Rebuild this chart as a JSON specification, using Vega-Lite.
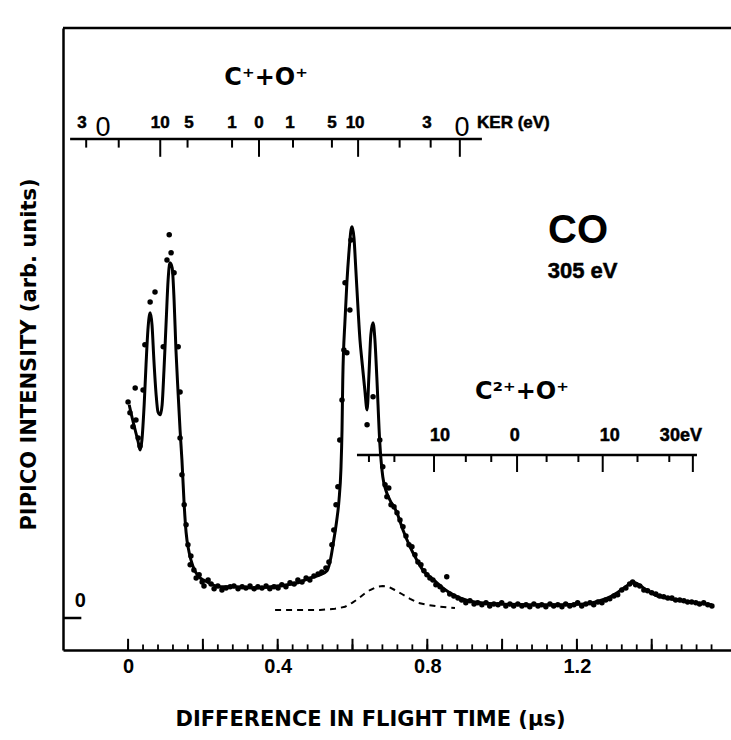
{
 "$schema": "https://vega.github.io/schema/vega-lite/v6.json",
 "width": 668,
 "height": 622,
 "autosize": {"type": "none"},
 "padding": {"left": 63, "top": 28, "right": 0, "bottom": 90},
 "background": "white",
 "config": {"view": {"stroke": null}, "font": "Liberation Sans"},
 "datasets": {
  "fit": [
   {"t":0.003,"v":53.3},{"t":0.011,"v":50},{"t":0.019,"v":47},{"t":0.027,"v":44},{"t":0.032,"v":42},{"t":0.037,"v":44.5},{"t":0.043,"v":53.3},{"t":0.048,"v":63.3},{"t":0.053,"v":72},{"t":0.059,"v":76.3},{"t":0.064,"v":73.3},{"t":0.069,"v":64.5},{"t":0.075,"v":55.8},{"t":0.080,"v":51.5},{"t":0.086,"v":50.8},{"t":0.091,"v":53.3},{"t":0.096,"v":62},{"t":0.102,"v":74.5},{"t":0.107,"v":84.5},{"t":0.112,"v":88.8},{"t":0.118,"v":87.5},{"t":0.123,"v":79.5},{"t":0.128,"v":67},{"t":0.134,"v":55.8},{"t":0.139,"v":47},{"t":0.144,"v":39.5},{"t":0.150,"v":28.3},{"t":0.155,"v":21.5},{"t":0.163,"v":16.5},{"t":0.174,"v":12.8},{"t":0.187,"v":10.5},{"t":0.206,"v":9.3},{"t":0.246,"v":7.8},{"t":0.291,"v":7.8},{"t":0.339,"v":7.5},{"t":0.379,"v":7.8},{"t":0.425,"v":8.3},{"t":0.460,"v":9},{"t":0.486,"v":10},{"t":0.513,"v":10.8},{"t":0.532,"v":11.8},{"t":0.542,"v":15},{"t":0.550,"v":19.5},{"t":0.558,"v":24.5},{"t":0.564,"v":29.5},{"t":0.569,"v":37},{"t":0.572,"v":47},{"t":0.574,"v":59.5},{"t":0.580,"v":74.5},{"t":0.585,"v":83.8},{"t":0.591,"v":92},{"t":0.596,"v":97},{"t":0.599,"v":97.8},{"t":0.604,"v":95},{"t":0.609,"v":87},{"t":0.615,"v":77},{"t":0.620,"v":69.5},{"t":0.625,"v":64.5},{"t":0.633,"v":57},{"t":0.639,"v":52},{"t":0.644,"v":60.8},{"t":0.649,"v":70.8},{"t":0.655,"v":73.8},{"t":0.660,"v":69.5},{"t":0.665,"v":60.3},{"t":0.673,"v":43.8},{"t":0.681,"v":35.3},{"t":0.689,"v":32},{"t":0.700,"v":29.5},{"t":0.719,"v":26.3},{"t":0.735,"v":22},{"t":0.754,"v":17.8},{"t":0.772,"v":14.5},{"t":0.788,"v":12},{"t":0.807,"v":10.3},{"t":0.826,"v":8.8},{"t":0.844,"v":7.3},{"t":0.860,"v":6.3},{"t":0.887,"v":5},{"t":0.927,"v":4},{"t":0.994,"v":3.5},{"t":1.074,"v":3.3},{"t":1.154,"v":3.3},{"t":1.221,"v":3.5},{"t":1.261,"v":4.3},{"t":1.293,"v":5.5},{"t":1.315,"v":6.8},{"t":1.333,"v":8},{"t":1.349,"v":9},{"t":1.363,"v":8.5},{"t":1.381,"v":7.3},{"t":1.408,"v":5.8},{"t":1.448,"v":4.8},{"t":1.502,"v":4},{"t":1.561,"v":3.3}
  ],
  "bg": [
   {"t":0.393,"v":2},{"t":0.433,"v":2},{"t":0.473,"v":2},{"t":0.513,"v":2},{"t":0.553,"v":2.3},{"t":0.580,"v":2.8},{"t":0.599,"v":3.8},{"t":0.615,"v":4.8},{"t":0.631,"v":6},{"t":0.647,"v":7},{"t":0.665,"v":7.8},{"t":0.681,"v":8},{"t":0.697,"v":7.8},{"t":0.713,"v":7},{"t":0.732,"v":6},{"t":0.754,"v":4.8},{"t":0.775,"v":3.8},{"t":0.799,"v":3.3},{"t":0.834,"v":2.8},{"t":0.874,"v":2.5}
  ],
  "pts": [
   {"t":0,"v":54},{"t":0.005,"v":51.3},{"t":0.013,"v":47.8},{"t":0.021,"v":49.5},{"t":0.027,"v":45},{"t":0.032,"v":43},{"t":0.019,"v":57.5},{"t":0.040,"v":57},{"t":0.045,"v":68.3},{"t":0.059,"v":79},{"t":0.072,"v":81.5},{"t":0.094,"v":67.8},{"t":0.104,"v":89.5},{"t":0.110,"v":95.8},{"t":0.115,"v":91.3},{"t":0.123,"v":86.3},{"t":0.134,"v":67.8},{"t":0.139,"v":56.5},{"t":0.139,"v":45},{"t":0.144,"v":35.8},{"t":0.150,"v":28.3},{"t":0.155,"v":23.3},{"t":0.160,"v":18.3},{"t":0.168,"v":15.5},{"t":0.166,"v":13.3},{"t":0.176,"v":12},{"t":0.182,"v":10},{"t":0.190,"v":10.8},{"t":0.198,"v":9},{"t":0.203,"v":8},{"t":0.214,"v":9.5},{"t":0.222,"v":8.5},{"t":0.230,"v":7.3},{"t":0.240,"v":8},{"t":0.251,"v":7},{"t":0.262,"v":7.5},{"t":0.273,"v":7.8},{"t":0.283,"v":8},{"t":0.294,"v":7.3},{"t":0.305,"v":7.8},{"t":0.315,"v":7.5},{"t":0.326,"v":8},{"t":0.337,"v":7.3},{"t":0.347,"v":7.8},{"t":0.358,"v":7.5},{"t":0.369,"v":8},{"t":0.379,"v":7.3},{"t":0.390,"v":7.8},{"t":0.401,"v":7.5},{"t":0.411,"v":8.3},{"t":0.422,"v":7.8},{"t":0.433,"v":8.8},{"t":0.444,"v":8.5},{"t":0.454,"v":9.5},{"t":0.465,"v":9},{"t":0.476,"v":10},{"t":0.486,"v":9.5},{"t":0.497,"v":10.5},{"t":0.508,"v":11},{"t":0.518,"v":11.5},{"t":0.529,"v":12.5},{"t":0.537,"v":14},{"t":0.545,"v":18.3},{"t":0.550,"v":22},{"t":0.556,"v":28.3},{"t":0.561,"v":32.8},{"t":0.566,"v":44.5},{"t":0.572,"v":54.5},{"t":0.577,"v":67},{"t":0.580,"v":83.8},{"t":0.585,"v":66.3},{"t":0.593,"v":77},{"t":0.596,"v":94.5},{"t":0.639,"v":48.3},{"t":0.655,"v":55.3},{"t":0.673,"v":44.5},{"t":0.681,"v":37.8},{"t":0.687,"v":33.3},{"t":0.692,"v":30.3},{"t":0.697,"v":32.5},{"t":0.703,"v":28.3},{"t":0.711,"v":27.8},{"t":0.719,"v":26.3},{"t":0.727,"v":24.5},{"t":0.735,"v":22.8},{"t":0.743,"v":20.5},{"t":0.751,"v":18.3},{"t":0.759,"v":17.8},{"t":0.767,"v":15.8},{"t":0.775,"v":14},{"t":0.783,"v":13.3},{"t":0.791,"v":11.8},{"t":0.799,"v":10.8},{"t":0.807,"v":10},{"t":0.815,"v":9.5},{"t":0.823,"v":8.3},{"t":0.834,"v":7.8},{"t":0.842,"v":7},{"t":0.852,"v":10.3},{"t":0.860,"v":6},{"t":0.871,"v":5.5},{"t":0.882,"v":5},{"t":0.892,"v":4.5},{"t":0.903,"v":3.8},{"t":0.914,"v":4.3},{"t":0.925,"v":3.5},{"t":0.935,"v":3.8},{"t":0.946,"v":3.3},{"t":0.957,"v":3.8},{"t":0.967,"v":3},{"t":0.978,"v":3.5},{"t":0.989,"v":3.3},{"t":0.999,"v":3.8},{"t":1.010,"v":3},{"t":1.021,"v":3.5},{"t":1.031,"v":3},{"t":1.042,"v":3.5},{"t":1.053,"v":3},{"t":1.064,"v":3.3},{"t":1.074,"v":2.8},{"t":1.085,"v":3.5},{"t":1.096,"v":3},{"t":1.106,"v":3.3},{"t":1.117,"v":2.8},{"t":1.128,"v":3.5},{"t":1.138,"v":3},{"t":1.149,"v":3.3},{"t":1.160,"v":2.8},{"t":1.170,"v":3.5},{"t":1.181,"v":3},{"t":1.192,"v":3.3},{"t":1.202,"v":3.8},{"t":1.213,"v":3},{"t":1.224,"v":3.5},{"t":1.235,"v":3.8},{"t":1.245,"v":3.3},{"t":1.256,"v":4},{"t":1.267,"v":3.8},{"t":1.277,"v":4.5},{"t":1.288,"v":4.8},{"t":1.299,"v":5.5},{"t":1.309,"v":5.8},{"t":1.320,"v":7},{"t":1.331,"v":7.5},{"t":1.341,"v":8.5},{"t":1.349,"v":9},{"t":1.357,"v":8.3},{"t":1.368,"v":8},{"t":1.379,"v":7},{"t":1.389,"v":6.8},{"t":1.400,"v":6.3},{"t":1.411,"v":6},{"t":1.421,"v":5.5},{"t":1.432,"v":5.3},{"t":1.443,"v":5},{"t":1.454,"v":5},{"t":1.464,"v":4.5},{"t":1.475,"v":4.5},{"t":1.486,"v":4.3},{"t":1.496,"v":4},{"t":1.507,"v":4},{"t":1.518,"v":3.8},{"t":1.528,"v":3.5},{"t":1.539,"v":3.8},{"t":1.550,"v":3.3},{"t":1.561,"v":3}
  ],
  "xminor": [{"t":0},{"t":0.04},{"t":0.08},{"t":0.12},{"t":0.16},{"t":0.2},{"t":0.24},{"t":0.28},{"t":0.32},{"t":0.36},{"t":0.4},{"t":0.44},{"t":0.48},{"t":0.52},{"t":0.56},{"t":0.6},{"t":0.64},{"t":0.68},{"t":0.72},{"t":0.76},{"t":0.8},{"t":0.84},{"t":0.88},{"t":0.92},{"t":0.96},{"t":1.0},{"t":1.04},{"t":1.08},{"t":1.12},{"t":1.16},{"t":1.2},{"t":1.24},{"t":1.28},{"t":1.32},{"t":1.36},{"t":1.4},{"t":1.44},{"t":1.48},{"t":1.52},{"t":1.56}],
  "xmajor": [{"t":0},{"t":0.2},{"t":0.4},{"t":0.6},{"t":0.8},{"t":1.0},{"t":1.2},{"t":1.4}],
  "topShort": [{"t":-0.112},{"t":-0.025},{"t":0.159},{"t":0.278},{"t":0.441},{"t":0.545},{"t":0.726},{"t":0.809}],
  "topLong": [{"t":0.086},{"t":0.350},{"t":0.615},{"t":0.887}],
  "c2Short": [{"t":0.644},{"t":0.712},{"t":0.903},{"t":0.971},{"t":1.119},{"t":1.204},{"t":1.362},{"t":1.447}],
  "c2Long": [{"t":0.818},{"t":1.040},{"t":1.269},{"t":1.510}],
  "topLabels": [{"t":-0.123,"v":123.75,"text":"3"},{"t":0.086,"v":123.75,"text":"10"},{"t":0.163,"v":123.75,"text":"5"},{"t":0.278,"v":123.75,"text":"1"},{"t":0.350,"v":123.75,"text":"0"},{"t":0.433,"v":123.75,"text":"1"},{"t":0.545,"v":123.75,"text":"5"},{"t":0.607,"v":123.75,"text":"10"},{"t":0.799,"v":123.75,"text":"3"}],
  "bigZeros": [{"t":-0.067,"v":122.4,"text":"0"},{"t":0.893,"v":122.4,"text":"0"}],
  "c2Labels": [{"t":0.834,"v":45.5,"text":"10"},{"t":1.034,"v":45.5,"text":"0"},{"t":1.288,"v":45.5,"text":"10"},{"t":1.478,"v":45.5,"text":"30eV"}],
  "ions": [{"t":0.369,"v":135,"text":"C⁺+O⁺"},{"t":1.053,"v":56.5,"text":"C²⁺+O⁺"}]
 },
 "layer": [
  {
   "data": {"name": "fit"},
   "mark": {"type": "line", "color": "black", "strokeWidth": 3, "interpolate": "monotone"},
   "encoding": {
    "x": {"field": "t", "type": "quantitative",
     "scale": {"domain": [-0.174, 1.612], "nice": false, "zero": false},
     "axis": {"title": "DIFFERENCE IN FLIGHT TIME (μs)", "values": [0, 0.4, 0.8, 1.2], "format": "~g", "ticks": false, "grid": false,
      "domain": true, "domainColor": "black", "domainWidth": 2.5,
      "labelFont": "Liberation Sans", "labelFontWeight": "bold", "labelFontSize": 20, "labelColor": "black", "labelPadding": 6,
      "titleFont": "DejaVu Sans", "titleFontWeight": "bold", "titleFontSize": 21, "titleColor": "black", "titlePadding": 32, "titleX": 307}},
    "y": {"field": "v", "type": "quantitative",
     "scale": {"domain": [-8, 147.5], "nice": false, "zero": false},
     "axis": {"title": "PIPICO INTENSITY (arb. units)", "ticks": false, "labels": false, "grid": false,
      "domain": true, "domainColor": "black", "domainWidth": 2.5,
      "titleFont": "DejaVu Sans", "titleFontWeight": "bold", "titleFontSize": 21, "titleColor": "black", "titlePadding": 24, "titleY": 326}}
   }
  },
  {
   "data": {"name": "bg"},
   "mark": {"type": "line", "color": "black", "strokeWidth": 2, "strokeDash": [6, 5]},
   "encoding": {"x": {"field": "t", "type": "quantitative"}, "y": {"field": "v", "type": "quantitative"}}
  },
  {
   "data": {"name": "pts"},
   "mark": {"type": "circle", "color": "black", "size": 30, "opacity": 1},
   "encoding": {"x": {"field": "t", "type": "quantitative"}, "y": {"field": "v", "type": "quantitative"}}
  },
  {
   "data": {"values": [{}]},
   "mark": {"type": "rule", "color": "black", "strokeWidth": 2.5},
   "encoding": {"y": {"datum": 147.5, "type": "quantitative"}}
  },
  {
   "data": {"values": [{}]},
   "mark": {"type": "rule", "color": "black", "strokeWidth": 2.5},
   "encoding": {"x": {"datum": -0.174, "type": "quantitative"}, "x2": {"datum": -0.125}, "y": {"datum": 0, "type": "quantitative"}}
  },
  {
   "data": {"name": "xminor"},
   "mark": {"type": "rule", "color": "black", "strokeWidth": 1.8},
   "encoding": {"x": {"field": "t", "type": "quantitative"}, "y": {"datum": -8, "type": "quantitative"}, "y2": {"datum": -6.6}}
  },
  {
   "data": {"name": "xmajor"},
   "mark": {"type": "rule", "color": "black", "strokeWidth": 2},
   "encoding": {"x": {"field": "t", "type": "quantitative"}, "y": {"datum": -8, "type": "quantitative"}, "y2": {"datum": -5.2}}
  },
  {
   "data": {"values": [{}]},
   "mark": {"type": "rule", "color": "black", "strokeWidth": 2.5},
   "encoding": {"x": {"datum": -0.155, "type": "quantitative"}, "x2": {"datum": 0.946}, "y": {"datum": 119.75, "type": "quantitative"}}
  },
  {
   "data": {"name": "topShort"},
   "mark": {"type": "rule", "color": "black", "strokeWidth": 2},
   "encoding": {"x": {"field": "t", "type": "quantitative"}, "y": {"datum": 119.75, "type": "quantitative"}, "y2": {"datum": 117.6}}
  },
  {
   "data": {"name": "topLong"},
   "mark": {"type": "rule", "color": "black", "strokeWidth": 2},
   "encoding": {"x": {"field": "t", "type": "quantitative"}, "y": {"datum": 119.75, "type": "quantitative"}, "y2": {"datum": 115.3}}
  },
  {
   "data": {"values": [{}]},
   "mark": {"type": "rule", "color": "black", "strokeWidth": 2.5},
   "encoding": {"x": {"datum": 0.612, "type": "quantitative"}, "x2": {"datum": 1.521}, "y": {"datum": 40.75, "type": "quantitative"}}
  },
  {
   "data": {"name": "c2Short"},
   "mark": {"type": "rule", "color": "black", "strokeWidth": 2},
   "encoding": {"x": {"field": "t", "type": "quantitative"}, "y": {"datum": 40.75, "type": "quantitative"}, "y2": {"datum": 39}}
  },
  {
   "data": {"name": "c2Long"},
   "mark": {"type": "rule", "color": "black", "strokeWidth": 2},
   "encoding": {"x": {"field": "t", "type": "quantitative"}, "y": {"datum": 40.75, "type": "quantitative"}, "y2": {"datum": 36.5}}
  },
  {
   "data": {"name": "topLabels"},
   "mark": {"type": "text", "font": "Liberation Sans", "fontWeight": "bold", "fontSize": 17, "color": "black", "stroke": "black", "strokeWidth": 0.5, "align": "center", "baseline": "middle"},
   "encoding": {"x": {"field": "t", "type": "quantitative"}, "y": {"field": "v", "type": "quantitative"}, "text": {"field": "text"}}
  },
  {
   "data": {"name": "bigZeros"},
   "mark": {"type": "text", "font": "Liberation Sans", "fontWeight": "normal", "fontSize": 27, "color": "black", "align": "center", "baseline": "middle"},
   "encoding": {"x": {"field": "t", "type": "quantitative"}, "y": {"field": "v", "type": "quantitative"}, "text": {"field": "text"}}
  },
  {
   "data": {"values": [{"t": 0.933, "v": 123.75, "text": "KER (eV)"}]},
   "mark": {"type": "text", "font": "Liberation Sans", "fontWeight": "bold", "fontSize": 17, "color": "black", "stroke": "black", "strokeWidth": 0.5, "align": "left", "baseline": "middle"},
   "encoding": {"x": {"field": "t", "type": "quantitative"}, "y": {"field": "v", "type": "quantitative"}, "text": {"field": "text"}}
  },
  {
   "data": {"name": "c2Labels"},
   "mark": {"type": "text", "font": "Liberation Sans", "fontWeight": "bold", "fontSize": 18, "color": "black", "stroke": "black", "strokeWidth": 0.5, "align": "center", "baseline": "middle"},
   "encoding": {"x": {"field": "t", "type": "quantitative"}, "y": {"field": "v", "type": "quantitative"}, "text": {"field": "text"}}
  },
  {
   "data": {"name": "ions"},
   "mark": {"type": "text", "font": "DejaVu Sans", "fontWeight": "bold", "fontSize": 24, "color": "black", "align": "center", "baseline": "middle"},
   "encoding": {"x": {"field": "t", "type": "quantitative"}, "y": {"field": "v", "type": "quantitative"}, "text": {"field": "text"}}
  },
  {
   "data": {"values": [{"t": 1.203, "v": 96.75, "text": "CO"}]},
   "mark": {"type": "text", "font": "Liberation Sans", "fontWeight": "bold", "fontSize": 40, "color": "black", "align": "center", "baseline": "middle"},
   "encoding": {"x": {"field": "t", "type": "quantitative"}, "y": {"field": "v", "type": "quantitative"}, "text": {"field": "text"}}
  },
  {
   "data": {"values": [{"t": 1.122, "v": 86.75, "text": "305 eV"}]},
   "mark": {"type": "text", "font": "Liberation Sans", "fontWeight": "bold", "fontSize": 22, "color": "black", "stroke": "black", "strokeWidth": 0.5, "align": "left", "baseline": "middle"},
   "encoding": {"x": {"field": "t", "type": "quantitative"}, "y": {"field": "v", "type": "quantitative"}, "text": {"field": "text"}}
  },
  {
   "data": {"values": [{"t": -0.128, "v": 4.25, "text": "0"}]},
   "mark": {"type": "text", "font": "Liberation Sans", "fontWeight": "bold", "fontSize": 20, "color": "black", "align": "center", "baseline": "middle"},
   "encoding": {"x": {"field": "t", "type": "quantitative"}, "y": {"field": "v", "type": "quantitative"}, "text": {"field": "text"}}
  }
 ]
}
